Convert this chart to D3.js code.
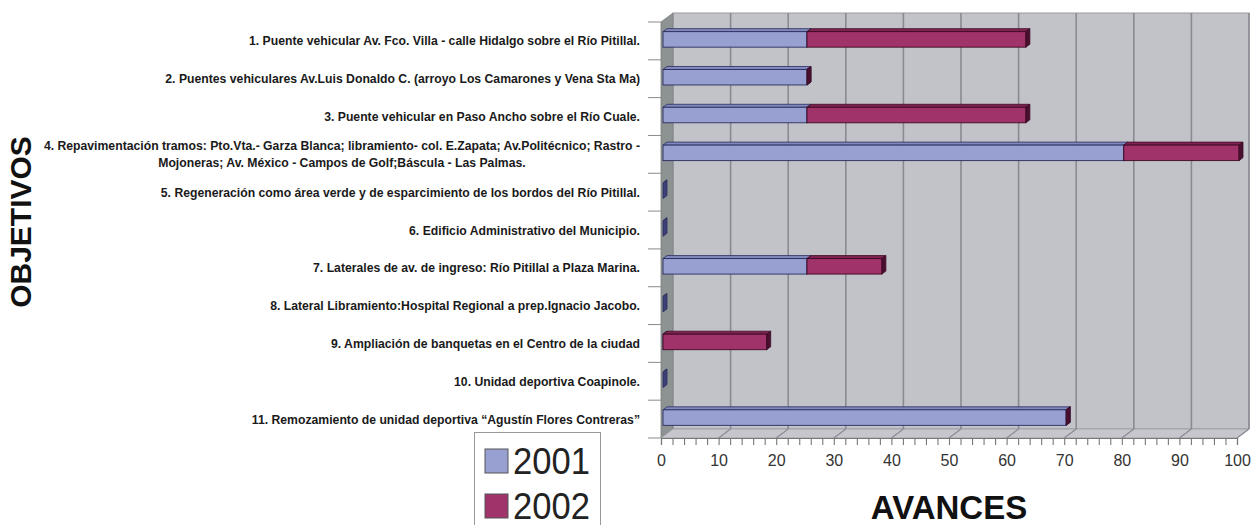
<!DOCTYPE html>
<html><head><meta charset="utf-8">
<script src="https://cdn.jsdelivr.net/npm/d3@7"></script>
<style>
html,body{margin:0;padding:0;background:#fff;}
svg{display:block;}
</style></head>
<body>
<svg id="chart" width="1251" height="525"></svg>
<script>
const categories = [
  "1. Puente vehicular Av. Fco. Villa - calle Hidalgo sobre el Río Pitillal.",
  "2. Puentes vehiculares Av.Luis Donaldo C. (arroyo Los Camarones y Vena Sta Ma)",
  "3. Puente vehicular en Paso Ancho sobre el Río Cuale.",
  "4. Repavimentación tramos: Pto.Vta.- Garza Blanca; libramiento- col. E.Zapata; Av.Politécnico; Rastro -\nMojoneras; Av. México - Campos de Golf;Báscula - Las Palmas.",
  "5. Regeneración como área verde y de esparcimiento de los bordos del Río Pitillal.",
  "6. Edificio Administrativo del Municipio.",
  "7. Laterales de av. de ingreso: Río Pitillal a Plaza Marina.",
  "8. Lateral Libramiento:Hospital Regional a prep.Ignacio Jacobo.",
  "9. Ampliación de banquetas en el Centro de la ciudad",
  "10. Unidad deportiva Coapinole.",
  "11. Remozamiento de unidad deportiva \u201cAgustín Flores Contreras\u201d"
];
const seriesNames = ["2001", "2002"];
const values2001 = [25, 25, 25, 80, 0, 0, 25, 0, 0, 0, 70];
const values2002 = [38, 0, 38, 20, 0, 0, 13, 0, 18, 0, 0];
const xTicks = [0, 10, 20, 30, 40, 50, 60, 70, 80, 90, 100];
const xTitle = "AVANCES";
const yTitle = "OBJETIVOS";

const svg = d3.select("#chart");
const x = d3.scaleLinear().domain([0, 100]).range([661, 1237]);
const y = d3.scaleBand().domain(d3.range(categories.length)).range([22, 438]).paddingInner(0).paddingOuter(0);
const DX = 12, DY = -9;

const wallCol = "#c2c2c9", sideCol = "#8d9292", floorCol = "#c6c6cc", gridCol = "#8a8a92";
const yT = y.range()[0], yB = y.range()[1];

svg.append("rect").attr("x", x(0) + DX).attr("y", yT + DY)
  .attr("width", x(100) - x(0)).attr("height", yB - yT)
  .attr("fill", wallCol).attr("stroke", "#9a9aa2").attr("stroke-width", 1);
svg.append("polygon").attr("points", [[x(0), yT], [x(0) + DX, yT + DY], [x(0) + DX, yB + DY], [x(0), yB]].join(" "))
  .attr("fill", sideCol).attr("stroke", "#7a7f7f").attr("stroke-width", 0.8);
svg.append("polygon").attr("points", [[x(0), yB], [x(0) + DX, yB + DY], [x(100) + DX, yB + DY], [x(100), yB]].join(" "))
  .attr("fill", floorCol).attr("stroke", "#9a9aa2").attr("stroke-width", 0.8);

const gridVals = xTicks.slice(1);
svg.append("g").selectAll("line").data(gridVals).join("line")
  .attr("x1", d => x(d) + DX).attr("x2", d => x(d) + DX)
  .attr("y1", yT + DY).attr("y2", yB + DY)
  .attr("stroke", gridCol).attr("stroke-width", 1.6);
svg.append("g").selectAll("line").data(gridVals).join("line")
  .attr("x1", d => x(d)).attr("x2", d => x(d) + DX)
  .attr("y1", yB).attr("y2", yB + DY)
  .attr("stroke", gridCol).attr("stroke-width", 1.2);

const xAxis = d3.axisBottom(x).tickValues(d3.range(0, 101, 2)).tickSize(7).tickFormat(d => xTicks.includes(d) ? d : "");
const gx = svg.append("g").attr("transform", `translate(0,${yB})`).call(xAxis);
gx.select(".domain").attr("stroke", "#777").attr("stroke-width", 1.2);
gx.selectAll(".tick line").attr("stroke", "#777").attr("stroke-width", 1.1);
gx.selectAll(".tick text").attr("font-family", "'Liberation Sans',Arial,sans-serif")
  .attr("font-size", 16).attr("fill", "#333").attr("dy", "1.1em");

const bounds = d3.range(categories.length + 1).map(i => yT + i * y.bandwidth());
svg.append("g").selectAll("line").data(bounds).join("line")
  .attr("x1", 648).attr("x2", x(0)).attr("y1", d => d).attr("y2", d => d)
  .attr("stroke", "#8a8a8a").attr("stroke-width", 1);

const colors = {
  "2001": {front: "#98a0d2", top: "#8189bf", end: "#3c3f78", stroke: "#2a2d5c"},
  "2002": {front: "#a0336a", top: "#7f2452", end: "#4a0f2e", stroke: "#3d0a24"}
};
const ox1 = 2, oy1 = -1.5, ox2 = 6, oy2 = -4.5, bh = 15.5;
const seriesVals = [values2001, values2002];
const segs = [];
categories.forEach((c, i) => {
  let cum = 0;
  seriesVals.forEach((vals, s) => {
    const v = vals[i];
    if (!(v === 0 && cum === 0 && s > 0)) segs.push({i, s, x0: cum, x1: cum + v});
    cum += v;
  });
});
const gb = svg.append("g");
segs.forEach(d => {
  const col = colors[seriesNames[d.s]];
  const cy = y(d.i) + y.bandwidth() / 2;
  const t = cy - bh / 2, b = cy + bh / 2;
  const a = x(d.x0), e = x(d.x1);
  gb.append("polygon").attr("points", [[a + ox1, t + oy1], [e + ox1, t + oy1], [e + ox2, t + oy2], [a + ox2, t + oy2]].join(" "))
    .attr("fill", col.top).attr("stroke", col.stroke).attr("stroke-width", 0.8).attr("stroke-linejoin", "round");
  if (d.x1 > d.x0) {
    gb.append("rect").attr("x", a + ox1).attr("y", t + oy1).attr("width", e - a).attr("height", bh)
      .attr("fill", col.front).attr("stroke", col.stroke).attr("stroke-width", 0.9);
  }
  gb.append("polygon").attr("points", [[e + ox1, t + oy1], [e + ox2, t + oy2], [e + ox2, b + oy2], [e + ox1, b + oy1]].join(" "))
    .attr("fill", col.end).attr("stroke", col.stroke).attr("stroke-width", 0.8).attr("stroke-linejoin", "round");
});

const sx = 0.94, lblRight = 640;
const gl = svg.append("g").attr("font-family", "'Liberation Sans',Arial,sans-serif").attr("font-weight", "bold")
  .attr("font-size", 13).attr("fill", "#1a1a1a");
categories.forEach((c, i) => {
  const lines = c.split("\n");
  const cy = y(i) + y.bandwidth() / 2;
  const lh = 17;
  const y0 = cy - (lines.length - 1) * lh / 2;
  const g = gl.append("g").attr("transform", `translate(${lblRight},0) scale(${sx},1)`);
  const first = g.append("text").attr("x", 0).attr("y", y0).attr("dy", "0.35em").attr("text-anchor", "end").text(lines[0]);
  if (lines.length > 1) {
    const w = first.node().getComputedTextLength();
    lines.slice(1).forEach((ln, k) => {
      g.append("text").attr("x", -w / 2).attr("y", y0 + (k + 1) * lh).attr("dy", "0.35em").attr("text-anchor", "middle").text(ln);
    });
  }
});

svg.append("text").attr("transform", "translate(31,222) rotate(-90)").attr("text-anchor", "middle")
  .attr("font-family", "'Liberation Sans',Arial,sans-serif").attr("font-weight", "bold").attr("font-size", 30)
  .attr("fill", "#111").text(yTitle);
svg.append("text").attr("x", 949).attr("y", 519).attr("text-anchor", "middle")
  .attr("font-family", "'Liberation Sans',Arial,sans-serif").attr("font-weight", "bold").attr("font-size", 33)
  .attr("fill", "#111").text(xTitle);

const lg = svg.append("g");
lg.append("rect").attr("x", 474.5).attr("y", 432.5).attr("width", 126).attr("height", 100)
  .attr("fill", "#fff").attr("stroke", "#999").attr("stroke-width", 1);
const legCols = [colors["2001"].front, colors["2002"].front];
seriesNames.forEach((n, k) => {
  const ly = 461 + k * 45;
  lg.append("rect").attr("x", 485).attr("y", ly - 12).attr("width", 23).attr("height", 24)
    .attr("fill", legCols[k]).attr("stroke", "#555").attr("stroke-width", 1);
  lg.append("text").attr("transform", `translate(513,${ly}) scale(0.96,1)`).attr("dy", "0.36em")
    .attr("font-family", "'Liberation Sans',Arial,sans-serif").attr("font-size", 36)
    .attr("fill", "#222").text(n);
});
</script>
</body></html>
